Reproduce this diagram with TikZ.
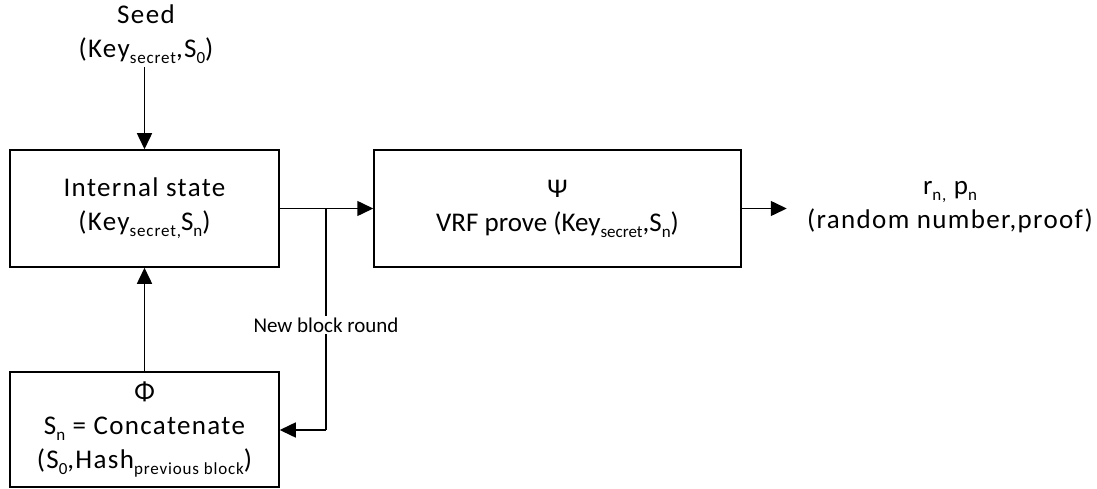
\documentclass[tikz,border=0pt]{standalone}
\usepackage{fontspec}
\setmainfont{Carlito}
\newfontfamily\spcfont[LetterSpace=5]{Carlito}
\usetikzlibrary{arrows.meta}
% small lowered index text
\newcommand\lowtxt[1]{\raisebox{-0.22em}{\fontsize{17}{17}\selectfont #1}}
\begin{document}
\begin{tikzpicture}[x=1pt,y=-1pt,
  box/.style={draw, line width=1.5pt, inner sep=0pt, align=center},
  main/.style={font=\spcfont\fontsize{27}{34}\selectfont},
  flow/.style={line width=1.5pt, -{Triangle[length=16pt,width=15pt]}},
  wire/.style={line width=1.5pt}]
\useasboundingbox (0,0) rectangle (1097,489);

\node[main, align=center] (seed) at (146,34)
  {Seed\\(Key\lowtxt{secret},S\lowtxt{0})};

\node[box, main, minimum width=269pt, minimum height=117pt] (state) at (144.5,208.5)
  {Internal state\\(Key\lowtxt{secret,}S\lowtxt{n})};

\node[box, font=\fontsize{27}{34}\selectfont, minimum width=367pt, minimum height=117pt] (vrf) at (557.5,208.5)
  {Ψ\\VRF prove (Key\lowtxt{secret},S\lowtxt{n})};

\node[box, main, minimum width=269pt, minimum height=115pt] (phi) at (144.5,429.5)
  {Φ\\S\lowtxt{n} = Concatenate\\(S\lowtxt{0},Hash\lowtxt{previous block})};

\node[main, align=center] (out) at (950,207)
  {r\lowtxt{n,} p\lowtxt{n}\\(random number,proof)};

\coordinate (split) at (326,208.5);
\coordinate (corner) at (326,430);

\draw[flow] (state.north |- seed.south) -- (state.north);
\draw[flow] (state.east) -- (vrf.west);
\draw[flow] (vrf.east) -- ++(45,0) coordinate (tip);
\draw[flow] (phi.north) -- (state.south);
\draw[wire] (split) -- (corner);
\draw[flow] (corner) -- (phi.east |- corner);

\node[fill=white, inner sep=2pt, font=\fontsize{21}{24}\selectfont] (round) at (326,325) {New block round};
\end{tikzpicture}
\end{document}
